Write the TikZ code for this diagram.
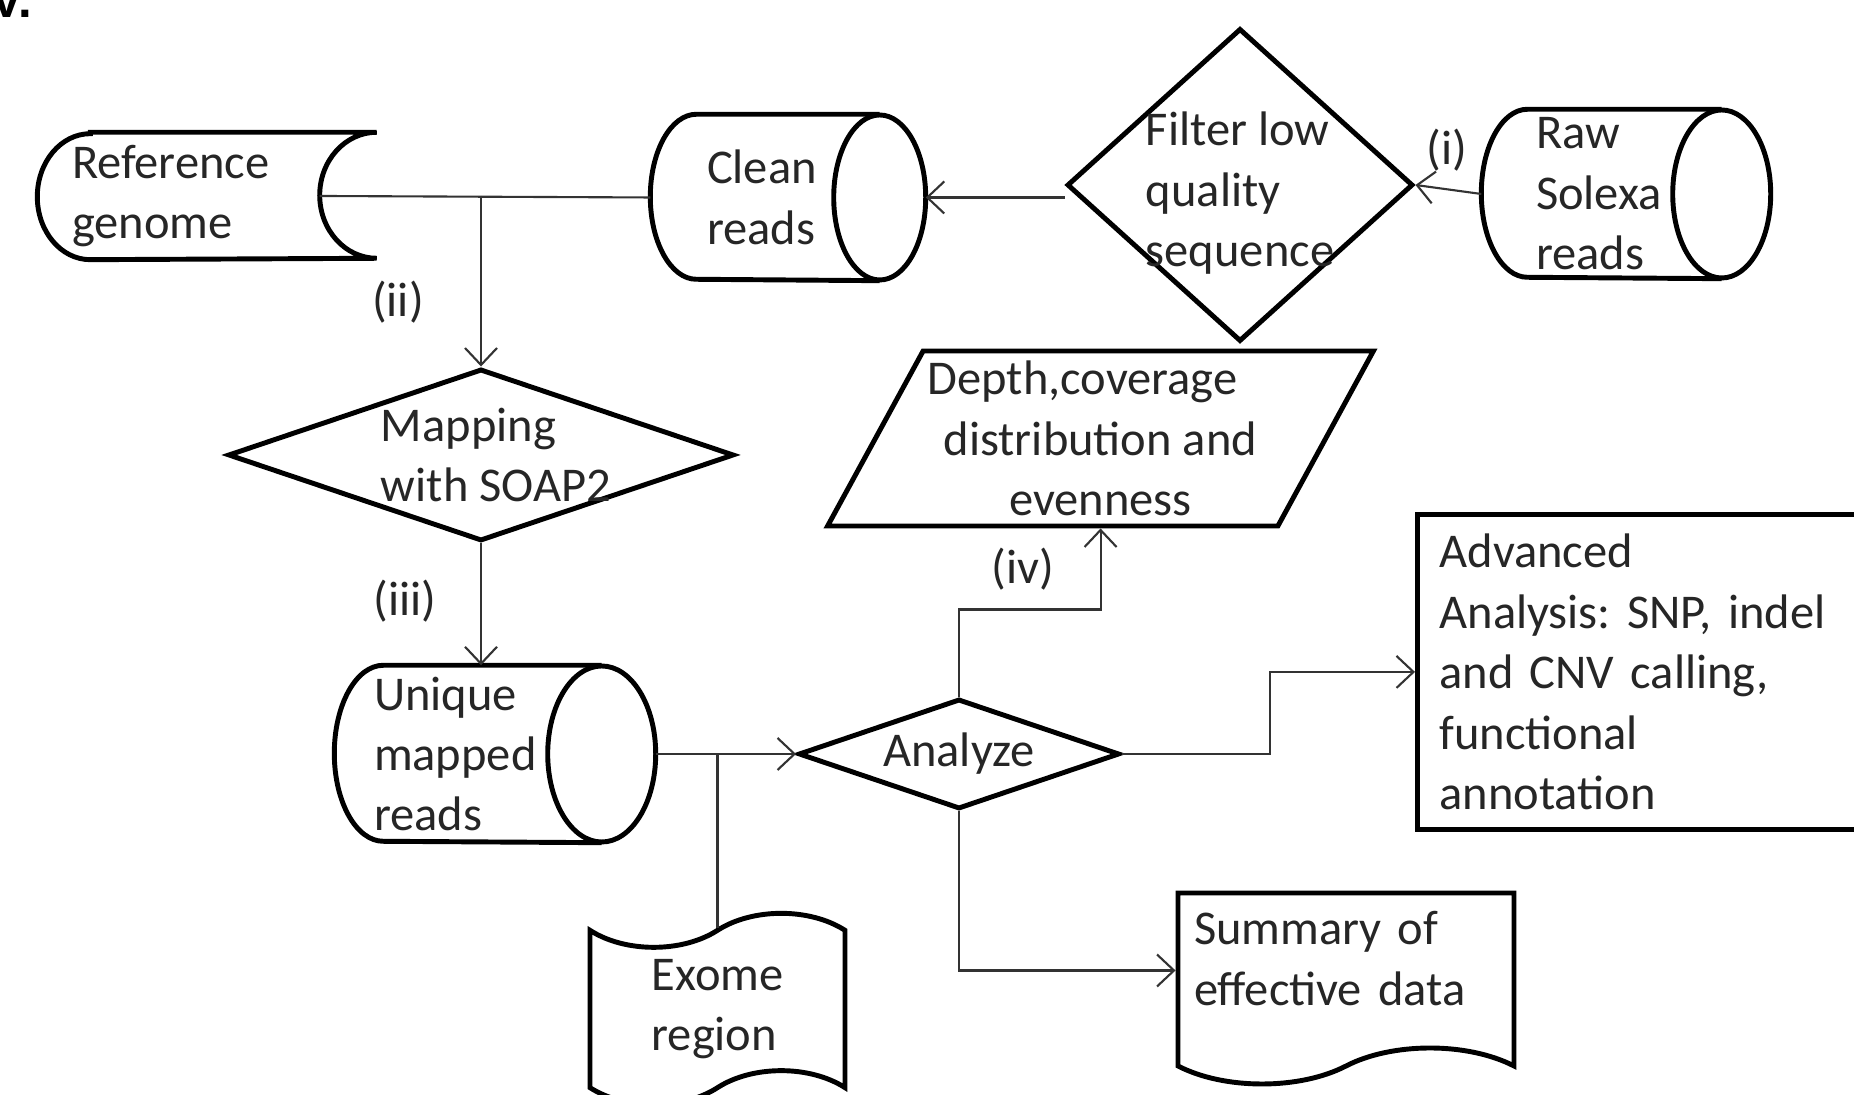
\documentclass[tikz,border=0pt]{standalone}
\usepackage{fontspec}
\setmainfont{Carlito}
\newfontfamily\panelfont{Liberation Sans}
\usetikzlibrary{arrows.meta,shapes.geometric,shapes.symbols}
\frenchspacing

\begin{document}
\begin{tikzpicture}[
                every node/.style={
                  font=\fontsize{13.8}{17.2}\selectfont,
                  text=black!85,
                },
                box line/.style={draw, line width=1.4pt},
                store/.style={inner ysep=0pt, align=left},
                decide/.style={box line, diamond, align=left},
                flow/.style={line width=.6pt, draw=black!80},
                >={Straight Barb[length=1.7mm,width=3.2mm]},
              ]
              \clip (0,0) rectangle (18.54,10.95);
              \fill[white] (0,0) rectangle (18.54,10.95);
              \node[anchor=base east, inner sep=0pt, text=black,
                    font=\panelfont\bfseries\fontsize{14}{16}\selectfont] (panel) at (0.33,10.77) {V.};
              % stored data
              \node[store, minimum width=3.38cm, minimum height=1.26cm, inner xsep=.34cm,
                    text width=2.70cm] (genome) at (2.07,8.99) {Reference\\genome};
              \draw[box line] ([xshift=.53cm]genome.north west) -- (genome.north east)
                    arc[start angle=90, end angle=270, x radius=.57cm, y radius=.63cm]
                    -- ([xshift=.53cm]genome.south west)
                    arc[start angle=270, end angle=90, x radius=.53cm, y radius=.63cm] -- cycle;
              % read sets
              \node[store, minimum width=2.74cm, minimum height=1.65cm, inner xsep=.56cm,
                    text width=1.62cm] (clean) at (7.88,8.975) {Clean\\reads};
              \draw[box line] ([xshift=-.46cm]clean.north east) -- ([xshift=.46cm]clean.north west)
                    arc[start angle=90, end angle=270, x radius=.46cm, y radius=.825cm]
                    -- ([xshift=-.46cm]clean.south east);
              \draw[box line] ([xshift=-.46cm]clean.east) ellipse[x radius=.46cm, y radius=.825cm];
              \node[store, minimum width=2.88cm, minimum height=1.68cm, inner xsep=.54cm,
                    text width=1.80cm] (raw) at (16.26,9.01) {Raw\\Solexa\\reads};
              \draw[box line] ([xshift=-.49cm]raw.north east) -- ([xshift=.46cm]raw.north west)
                    arc[start angle=90, end angle=270, x radius=.46cm, y radius=.84cm]
                    -- ([xshift=-.49cm]raw.south east);
              \draw[box line] ([xshift=-.49cm]raw.east) ellipse[x radius=.49cm, y radius=.84cm];
              \node[store, minimum width=3.20cm, minimum height=1.76cm, inner xsep=.39cm,
                    text width=2.42cm] (unique) at (4.95,3.41) {Unique\\mapped\\reads};
              \draw[box line] ([xshift=-.54cm]unique.north east) -- ([xshift=.49cm]unique.north west)
                    arc[start angle=90, end angle=270, x radius=.49cm, y radius=.88cm]
                    -- ([xshift=-.54cm]unique.south east);
              \draw[box line] ([xshift=-.54cm]unique.east) ellipse[x radius=.54cm, y radius=.88cm];
              % decisions
              \node[decide, minimum width=3.46cm, minimum height=3.13cm, aspect=1.1,
                    inner sep=-.15cm] (filter) at (12.40,9.10)
                    {\rule{0pt}{.5cm}Filter low\\quality\\sequence};
              \node[decide, minimum width=5.06cm, minimum height=1.72cm, aspect=2.94,
                    inner sep=-.1cm] (mapping) at (4.81,6.40)
                    {\hspace*{.3cm}Mapping\\\hspace*{.3cm}with SOAP2};
              \node[decide, minimum width=3.21cm, minimum height=1.10cm, aspect=2.9,
                    inner sep=0pt] (analyze) at (9.59,3.41) {Analyze};
              % outputs
              \node[box line, trapezium, trapezium left angle=59, trapezium right angle=121,
                    trapezium stretches=true, minimum width=5.47cm, minimum height=1.75cm,
                    inner sep=0pt, align=center] (depth) at (11.005,6.565)
                    {Depth,coverage\hspace*{.36cm}\\distribution and\\evenness};
              \node[box line, tape, minimum width=2.55cm, minimum height=1.74cm,
                    tape bend height=.34cm, align=left] (exome) at (7.175,0.86) {Exome\\region};
              \node[box line, tape, tape bend top=none, minimum width=3.36cm, minimum height=1.91cm,
                    tape bend height=.36cm, text width=3.04cm, align=left] (summary) at (13.46,1.245)
                    {Summary of\\effective data\rule[-.24cm]{0pt}{.24cm}};
              \node[box line, anchor=north west, minimum width=4.75cm, minimum height=3.15cm,
                    inner xsep=.22cm, text width=4.31cm, align=left] (advanced) at (14.15,5.83)
                    {Advanced\\Analysis: SNP, indel\\and CNV calling,\\functional\\annotation};
              % step labels
              \node (lbl1) at (14.47,9.45) {(i)};
              \node (lbl2) at (3.98,7.93) {(ii)};
              \node (lbl3) at (4.05,4.94) {(iii)};
              \node (lbl4) at (10.23,5.26) {(iv)};
              \coordinate (join) at ([xshift=-.57cm]genome.east);
              \draw[flow] (join)--(clean.west) ;
              \draw[flow,->] (join -| mapping.north)--(mapping.north) ;
              \draw[flow,->] (raw.west)--(filter.east) ;
              \draw[flow,->] (filter.west |- clean.east)--(clean.east) ;
              \draw[flow,->] (mapping.south)--(mapping.south |- unique.north) ;
              \draw[flow,->] (unique.east)--(analyze.west) ;
              \draw[flow] (exome.north)--(exome.north |- unique.east) ;
              \draw[flow,->] (analyze.north) -- ++(0,.87) -| (depth.south) ;
              \draw[flow,->] (analyze.east) -- ++(1.48,0) |- (advanced.west) ;
              \draw[flow,->] (analyze.south) |- (summary.west) ;
              \end{tikzpicture}
\end{document}
